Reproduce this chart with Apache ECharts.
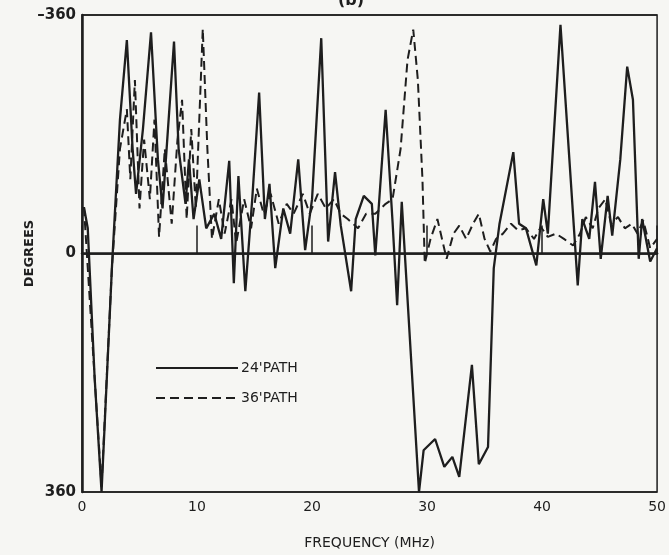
<!DOCTYPE html>
<html>
<head>
<meta charset="UTF-8">
<title>Phase vs frequency</title>
<script type="text/javascript" src="https://cdn.jsdelivr.net/npm/echarts@6/dist/echarts.min.js"></script>
<style type="text/css">
	html, body { margin:0; padding:0; background:#f6f6f3; }
	#chart { width:669px; height:555px; }
</style>
</head>
<body>
<div id="chart"></div>
<script type="text/javascript">
	// 24' path (solid)
	var freq24 = [0.17,0.5,1.1,1.7,2.6,3.3,3.9,4.4,4.7,5.3,6.0,6.6,7.0,8.0,8.4,9.0,9.3,9.7,10.2,10.8,11.5,12.1,12.8,13.2,13.6,14.2,14.8,15.4,15.9,16.3,16.8,17.5,18.1,18.8,19.4,20.0,20.8,21.4,22.0,22.5,23.4,23.8,24.5,25.2,25.5,26.4,27.0,27.4,27.8,29.3,29.7,30.7,31.5,32.2,32.8,33.9,34.5,35.3,35.8,36.3,37.5,38.0,38.6,39.5,40.1,40.5,41.6,43.1,43.5,44.1,44.6,45.1,45.7,46.1,46.8,47.4,47.9,48.4,48.7,49.4,50.0];
	var deg24 = [-70,-38,188,360,22,-202,-322,-158,-90,-188,-334,-142,-68,-320,-158,-75,-142,-52,-112,-38,-60,-22,-140,45,-117,57,-82,-243,-52,-105,22,-68,-30,-142,-5,-82,-325,-18,-123,-42,57,-52,-87,-75,3,-217,-48,78,-78,360,297,280,322,307,337,168,318,292,22,-45,-153,-45,-38,18,-82,-30,-345,48,-52,-22,-108,8,-87,-27,-142,-282,-232,8,-52,12,-8];
	// 36' path (dashed)
	var freq36 = [0.17,1.1,1.7,2.6,3.3,3.9,4.2,4.6,5.0,5.4,5.9,6.3,6.7,7.2,7.8,8.3,8.7,9.1,9.5,9.9,10.5,10.9,11.3,11.9,12.4,13.0,13.4,14.1,14.7,15.2,15.8,16.4,17.1,17.8,18.4,19.2,19.8,20.5,21.2,21.9,22.5,23.1,24.0,24.7,25.5,26.4,27.0,27.7,28.3,28.8,29.2,29.6,29.8,30.3,30.9,31.3,31.7,32.3,32.8,33.4,34.0,34.5,35.0,35.5,36.0,36.6,37.3,37.9,38.6,39.3,39.9,40.5,41.2,41.9,42.7,43.3,43.8,44.4,44.9,45.5,46.0,46.6,47.2,47.8,48.3,48.8,49.4,50.0];
	var deg36 = [-70,188,352,22,-158,-218,-112,-262,-68,-172,-82,-202,-25,-158,-45,-172,-232,-52,-188,-68,-339,-158,-22,-82,-30,-82,-15,-82,-38,-98,-60,-90,-45,-75,-60,-90,-60,-90,-68,-82,-60,-52,-38,-60,-60,-75,-82,-158,-292,-338,-262,-112,15,-22,-52,-22,8,-30,-42,-22,-45,-60,-22,-3,-22,-30,-45,-35,-38,-22,-40,-25,-30,-22,-12,-30,-55,-38,-68,-82,-45,-55,-38,-45,-30,-50,-8,-22];

	var xTicks = [0, 10, 20, 30, 40, 50];
	var yTicks = [-360, 0, 360];

	function pairs(xs, ys){
		var out = [];
		for(var i = 0; i < xs.length; i++){
			out.push([xs[i], ys[i]]);
		}
		return out;
	}

	var ink = '#1e1e1e';
	var chart = echarts.init(document.getElementById('chart'));
	var option = {
		backgroundColor: '#f6f6f3',
		animation: false,
		title: {
			text: '(b)',
			left: 333,
			top: -12,
			textStyle: { fontFamily: 'DejaVu Sans', fontSize: 16, fontWeight: 'bold', color: ink }
		},
		legend: {
			orient: 'vertical',
			left: 150,
			top: 356,
			itemWidth: 82,
			itemHeight: 10,
			itemGap: 16,
			data: ["24'PATH", "36'PATH"],
			itemStyle: { opacity: 0 },
			textStyle: { fontFamily: 'DejaVu Sans', fontSize: 14, color: ink, padding: [0, 0, 0, -2] }
		},
		grid: {
			left: 82, right: 6, top: 15, bottom: 60,
			show: true,
			borderColor: ink,
			borderWidth: 1.5,
			backgroundColor: 'transparent'
		},
		xAxis: {
			type: 'value',
			min: xTicks[0],
			max: xTicks[xTicks.length - 1],
			interval: 10,
			name: 'FREQUENCY (MHz)',
			nameLocation: 'middle',
			nameGap: 44,
			nameTextStyle: { fontFamily: 'DejaVu Sans', fontSize: 14, color: ink, letterSpacing: 2 },
			axisLine: { lineStyle: { color: ink, width: 2.5 } },
			axisTick: { show: true, inside: true, length: 28, lineStyle: { color: ink, width: 1.5 } },
			axisLabel: { fontFamily: 'DejaVu Sans', fontSize: 14, color: ink, margin: 8 },
			splitLine: { show: false }
		},
		yAxis: {
			type: 'value',
			inverse: true,
			min: yTicks[0],
			max: yTicks[yTicks.length - 1],
			interval: 360,
			name: 'DEGREES',
			nameLocation: 'middle',
			nameGap: 46,
			nameMoveOverlap: false,
			nameTextStyle: { fontFamily: 'DejaVu Sans', fontSize: 13, fontWeight: 'bold', color: ink },
			axisLine: { lineStyle: { color: ink, width: 2.5 } },
			axisTick: { show: false },
			axisLabel: {
				fontFamily: 'DejaVu Sans', fontSize: 15, fontWeight: 'bold', color: ink, margin: 6,
				formatter: function(v){ return v < 0 ? '\u2013' + Math.abs(v) : String(v); }
			},
			splitLine: { show: true, lineStyle: { color: ink, width: 1.5 } }
		},
		series: [
			{
				name: "24'PATH",
				type: 'line',
				symbol: 'none',
				data: pairs(freq24, deg24),
				lineStyle: { color: ink, width: 2.3, type: 'solid' },
				itemStyle: { color: ink }
			},
			{
				name: "36'PATH",
				type: 'line',
				symbol: 'none',
				data: pairs(freq36, deg36),
				lineStyle: { color: ink, width: 2, type: [9, 5] },
				itemStyle: { color: ink }
			}
		]
	};
	chart.setOption(option, true);
</script>
</body>
</html>
